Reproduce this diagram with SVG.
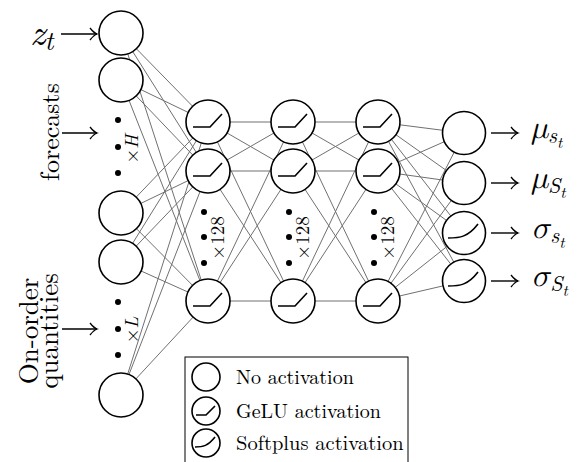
<svg xmlns="http://www.w3.org/2000/svg" width="586" height="462" viewBox="0 0 586 462">
<style>
.node{fill:#fff;stroke:#000;stroke-width:1.6}
.act{fill:none;stroke:#000;stroke-width:1.6;stroke-linejoin:round}
.edge{stroke:#707070;stroke-width:1;fill:none}
.arr{stroke:#000;stroke-width:1.4;fill:none}
.dot{fill:#000}
.serif{font-family:"Latin Modern Roman","Liberation Serif","DejaVu Serif",serif;fill:#000}
.greek{font-family:"Latin Modern Math","CMU Serif","Latin Modern Roman","DejaVu Serif",serif;font-style:italic;font-weight:normal}
.it{font-style:italic}
.rot{opacity:0.99}
</style>
<defs>
<marker id="ah" viewBox="-10 -7 12 14" markerWidth="12" markerHeight="14" refX="0" refY="0" orient="auto" markerUnits="userSpaceOnUse">
<path d="M -7 -6 Q -3 -1 0 0 Q -3 1 -7 6" fill="none" stroke="#000" stroke-width="1.3"/>
</marker>
<path id="gelu" d="M -15 5 L 2 5 L 14 -8" class="act"/>
<path id="soft" d="M -16 5 C -4 5 4 4 14 -9" class="act"/>
</defs>

<g id="connectors">
<g class="edge">
<line x1="121" y1="33" x2="208" y2="122"/><line x1="121" y1="33" x2="208" y2="171"/><line x1="121" y1="33" x2="208" y2="301"/>
<line x1="121" y1="80" x2="208" y2="122"/><line x1="121" y1="80" x2="208" y2="171"/><line x1="121" y1="80" x2="208" y2="301"/>
<line x1="121" y1="213" x2="208" y2="122"/><line x1="121" y1="213" x2="208" y2="171"/><line x1="121" y1="213" x2="208" y2="301"/>
<line x1="121" y1="262" x2="208" y2="122"/><line x1="121" y1="262" x2="208" y2="171"/><line x1="121" y1="262" x2="208" y2="301"/>
<line x1="121" y1="395" x2="208" y2="122"/><line x1="121" y1="395" x2="208" y2="171"/><line x1="121" y1="395" x2="208" y2="301"/>

<line x1="208" y1="122" x2="293" y2="122"/><line x1="208" y1="122" x2="293" y2="171"/><line x1="208" y1="122" x2="293" y2="301"/>
<line x1="208" y1="171" x2="293" y2="122"/><line x1="208" y1="171" x2="293" y2="171"/><line x1="208" y1="171" x2="293" y2="301"/>
<line x1="208" y1="301" x2="293" y2="122"/><line x1="208" y1="301" x2="293" y2="171"/><line x1="208" y1="301" x2="293" y2="301"/>

<line x1="293" y1="122" x2="378" y2="122"/><line x1="293" y1="122" x2="378" y2="171"/><line x1="293" y1="122" x2="378" y2="301"/>
<line x1="293" y1="171" x2="378" y2="122"/><line x1="293" y1="171" x2="378" y2="171"/><line x1="293" y1="171" x2="378" y2="301"/>
<line x1="293" y1="301" x2="378" y2="122"/><line x1="293" y1="301" x2="378" y2="171"/><line x1="293" y1="301" x2="378" y2="301"/>

<line x1="378" y1="122" x2="464" y2="133"/><line x1="378" y1="122" x2="464" y2="183"/><line x1="378" y1="122" x2="464" y2="233"/><line x1="378" y1="122" x2="464" y2="281"/>
<line x1="378" y1="171" x2="464" y2="133"/><line x1="378" y1="171" x2="464" y2="183"/><line x1="378" y1="171" x2="464" y2="233"/><line x1="378" y1="171" x2="464" y2="281"/>
<line x1="378" y1="301" x2="464" y2="133"/><line x1="378" y1="301" x2="464" y2="183"/><line x1="378" y1="301" x2="464" y2="233"/><line x1="378" y1="301" x2="464" y2="281"/>
</g>
<g class="arr">
<line x1="61" y1="34" x2="97" y2="34" marker-end="url(#ah)"/>
<line x1="62" y1="133" x2="97" y2="133" marker-end="url(#ah)"/>
<line x1="62" y1="329" x2="97" y2="329" marker-end="url(#ah)"/>
<line x1="491" y1="133" x2="518" y2="133" marker-end="url(#ah)"/>
<line x1="491" y1="183" x2="518" y2="183" marker-end="url(#ah)"/>
<line x1="491" y1="233" x2="518" y2="233" marker-end="url(#ah)"/>
<line x1="491" y1="281" x2="518" y2="281" marker-end="url(#ah)"/>
</g>
</g>

<g id="input-nodes">
<g id="in1"><circle class="node" cx="121" cy="33" r="22"/></g>
<g id="in2"><circle class="node" cx="121" cy="80" r="22"/></g>
<g id="in3"><circle class="node" cx="121" cy="213" r="22"/></g>
<g id="in4"><circle class="node" cx="121" cy="262" r="22"/></g>
<g id="in5"><circle class="node" cx="121" cy="395" r="22"/></g>
<g id="dotsH"><circle class="dot" cx="118" cy="120" r="3"/><circle class="dot" cx="118" cy="147" r="3"/><circle class="dot" cx="118" cy="173" r="3"/>
<text class="serif rot" transform="translate(138,149) rotate(-90)" text-anchor="middle" font-size="19">×<tspan class="it">H</tspan></text></g>
<g id="dotsL"><circle class="dot" cx="118" cy="302" r="3"/><circle class="dot" cx="118" cy="329" r="3"/><circle class="dot" cx="118" cy="355" r="3"/>
<text class="serif rot" transform="translate(138,330) rotate(-90)" text-anchor="middle" font-size="19">×<tspan class="it">L</tspan></text></g>
</g>

<g id="hidden1">
<g id="h1a"><circle class="node" cx="208" cy="122" r="22"/><use href="#gelu" x="208" y="122"/></g>
<g id="h1b"><circle class="node" cx="208" cy="171" r="22"/><use href="#gelu" x="208" y="171"/></g>
<g id="h1c"><circle class="node" cx="208" cy="301" r="22"/><use href="#gelu" x="208" y="301"/></g>
<circle class="dot" cx="204" cy="212" r="3"/><circle class="dot" cx="204" cy="237" r="3"/><circle class="dot" cx="204" cy="263" r="3"/>
<text class="serif rot" transform="translate(224,238) rotate(-90)" text-anchor="middle" font-size="19">×128</text>
</g>
<g id="hidden2">
<g id="h2a"><circle class="node" cx="293" cy="122" r="22"/><use href="#gelu" x="293" y="122"/></g>
<g id="h2b"><circle class="node" cx="293" cy="171" r="22"/><use href="#gelu" x="293" y="171"/></g>
<g id="h2c"><circle class="node" cx="293" cy="301" r="22"/><use href="#gelu" x="293" y="301"/></g>
<circle class="dot" cx="289" cy="212" r="3"/><circle class="dot" cx="289" cy="237" r="3"/><circle class="dot" cx="289" cy="263" r="3"/>
<text class="serif rot" transform="translate(309,238) rotate(-90)" text-anchor="middle" font-size="19">×128</text>
</g>
<g id="hidden3">
<g id="h3a"><circle class="node" cx="378" cy="122" r="22"/><use href="#gelu" x="378" y="122"/></g>
<g id="h3b"><circle class="node" cx="378" cy="171" r="22"/><use href="#gelu" x="378" y="171"/></g>
<g id="h3c"><circle class="node" cx="378" cy="301" r="22"/><use href="#gelu" x="378" y="301"/></g>
<circle class="dot" cx="374" cy="212" r="3"/><circle class="dot" cx="374" cy="237" r="3"/><circle class="dot" cx="374" cy="263" r="3"/>
<text class="serif rot" transform="translate(394,238) rotate(-90)" text-anchor="middle" font-size="19">×128</text>
</g>

<g id="outputs">
<g id="o1"><circle class="node" cx="464" cy="133" r="21.5"/></g>
<g id="o2"><circle class="node" cx="464" cy="183" r="21.5"/></g>
<g id="o3"><circle class="node" cx="464" cy="233" r="21.5"/><use href="#soft" x="464" y="233"/></g>
<g id="o4"><circle class="node" cx="464" cy="281" r="21.5"/><use href="#soft" x="464" y="281"/></g>
</g>

<g id="labels">
<text class="serif" x="30" y="45" font-size="38"><tspan class="it">z</tspan><tspan class="it" font-size="27" dx="-1" dy="5">t</tspan></text>
<text class="serif" transform="translate(59,132) rotate(-90)" text-anchor="middle" font-size="26">forecasts</text>
<text class="serif" transform="translate(38,331) rotate(-90)" text-anchor="middle" font-size="27">On-order</text>
<text class="serif" transform="translate(58,331) rotate(-90)" text-anchor="middle" font-size="27">quantities</text>
<text class="serif" x="531" y="138" font-size="32"><tspan class="greek">μ</tspan><tspan class="it" font-size="22" dy="5">s</tspan><tspan class="it" font-size="16" dy="5">t</tspan></text>
<text class="serif" x="531" y="188" font-size="32"><tspan class="greek">μ</tspan><tspan class="it" font-size="22" dy="5">S</tspan><tspan class="it" font-size="16" dy="5">t</tspan></text>
<text class="serif" x="531" y="238" font-size="32"><tspan class="greek">σ</tspan><tspan class="it" font-size="22" dy="5">s</tspan><tspan class="it" font-size="16" dy="5">t</tspan></text>
<text class="serif" x="531" y="286" font-size="32"><tspan class="greek">σ</tspan><tspan class="it" font-size="22" dy="5">S</tspan><tspan class="it" font-size="16" dy="5">t</tspan></text>
</g>

<g id="legend">
<rect x="185" y="357" width="223" height="112" fill="#fff" stroke="#000" stroke-width="1"/>
<g id="leg-none"><circle class="node" cx="206" cy="377" r="14"/><text class="serif" x="236" y="384" font-size="20">No activation</text></g>
<g id="leg-gelu"><circle class="node" cx="206" cy="411" r="14"/><path class="act" d="M 196 415 L 206 415 L 215 406"/><text class="serif" x="236" y="418" font-size="20">GeLU activation</text></g>
<g id="leg-soft"><circle class="node" cx="206" cy="443" r="14"/><path class="act" d="M 195 447 C 203 447 208 446 215 437"/><text class="serif" x="236" y="450" font-size="20.5">Softplus activation</text></g>
</g>
</svg>
